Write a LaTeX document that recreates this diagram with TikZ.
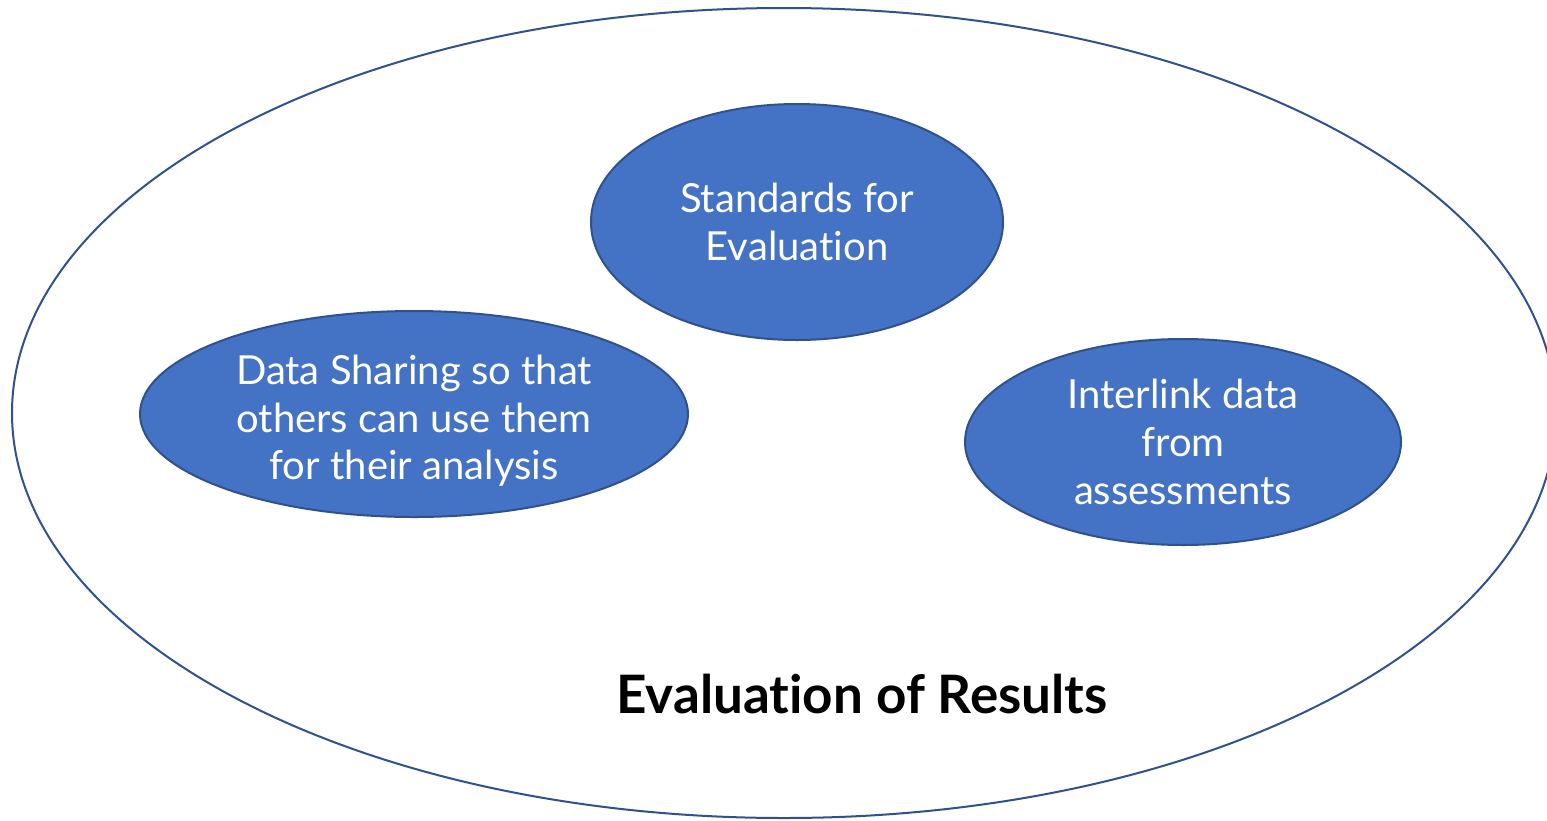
\documentclass[tikz,border=0pt]{standalone}
\usepackage{fontspec}
\setmainfont{Lato}[RawFeature={-liga}]
\usetikzlibrary{shapes.geometric}
\definecolor{fillblue}{HTML}{4472C4}
\definecolor{edgeblue}{HTML}{2F528F}
\tikzset{
  bubbletext/.style={text=white, inner sep=0pt, align=center, font=\fontsize{20}{23.8}\selectfont},
  bubble/.style={ellipse, draw=edgeblue, line width=1pt, fill=fillblue, bubbletext},
}
\begin{document}
\begin{tikzpicture}[x=0.5pt,y=-0.5pt]
\useasboundingbox (0,0) rectangle (1547,820);
\clip (0,0) rectangle (1547,820);
\fill[white] (0,0) rectangle (1547,820);
\draw[edgeblue, line width=1pt] (784,413) ellipse [x radius=772, y radius=405];
\node[bubble, minimum width=206pt, minimum height=118pt] (std) at (797,222) {Standards for\\Evaluation};
\node[bubble, minimum width=274pt, minimum height=103pt,
  label={[bubbletext, yshift=-3.5pt]center:Data Sharing so that\\others can use them\\for their analysis}] (share) at (414,414) {};
\node[bubble, minimum width=218pt, minimum height=103pt] (link) at (1183,442) {Interlink data\\from\\assessments};
\node[font=\fontsize{26.5}{32}\selectfont\bfseries] (title) at (862,694) {Evaluation of Results};
\end{tikzpicture}
\end{document}
